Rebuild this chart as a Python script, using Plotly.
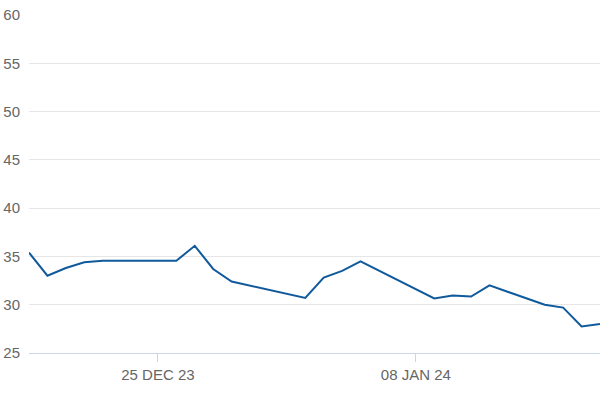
import plotly.graph_objects as go

# Serie diaria
dates = [
    "2023-12-18", "2023-12-19", "2023-12-20", "2023-12-21", "2023-12-22",
    "2023-12-26", "2023-12-27", "2023-12-28", "2023-12-29",
    "2024-01-02", "2024-01-03", "2024-01-04", "2024-01-05",
    "2024-01-09", "2024-01-10", "2024-01-11", "2024-01-12",
    "2024-01-15", "2024-01-16", "2024-01-17", "2024-01-18",
]
values = [
    35.4, 33.0, 33.8, 34.4, 34.55,
    34.55, 36.1, 33.7, 32.4,
    30.7, 32.8, 33.5, 34.5,
    30.65, 30.95, 30.85, 32.0,
    30.0, 29.7, 27.75, 28.0,
]

x_tickvals = ["2023-12-25", "2024-01-08"]
x_ticktext = ["25 DEC 23", "08 JAN 24"]
y_tickvals = [25, 30, 35, 40, 45, 50, 55, 60]

LINE_COLOR = "#105a9c"
GRID = "#e6e6e6"
AXIS = "#ccd6eb"
LABEL = "#666666"

fig = go.Figure(go.Scatter(
    x=dates,
    y=values,
    mode="lines",
    line=dict(color=LINE_COLOR, width=2),
    hovertemplate="%{x|%d %b %y}: %{y:.2f}<extra></extra>",
))

fig.update_layout(
    width=600,
    height=400,
    paper_bgcolor="white",
    plot_bgcolor="white",
    showlegend=False,
    font=dict(family="Liberation Sans, Arial, sans-serif", size=15, color=LABEL),
    margin=dict(t=15, b=47, l=29, r=0),
    xaxis=dict(
        type="date",
        range=["2023-12-18", "2024-01-18"],
        tickvals=x_tickvals,
        ticktext=x_ticktext,
        showgrid=False,
        showline=True,
        linecolor=AXIS,
        linewidth=1,
        ticks="outside",
        ticklen=8,
        tickcolor=AXIS,
        tickfont=dict(size=15, color=LABEL),
        zeroline=False,
    ),
    yaxis=dict(
        range=[25, 60],
        tickvals=y_tickvals,
        showgrid=True,
        gridcolor=GRID,
        gridwidth=1,
        zeroline=False,
        showline=False,
        ticks="",
        ticklabelstandoff=8,
        tickfont=dict(size=15, color=LABEL),
    ),
)

# quitar el margen por defecto del body para que el grafico ocupe la ventana
fig.write_html(
    "out.html",
    config={"displayModeBar": False},
    post_script="document.body.style.margin='0';",
)
